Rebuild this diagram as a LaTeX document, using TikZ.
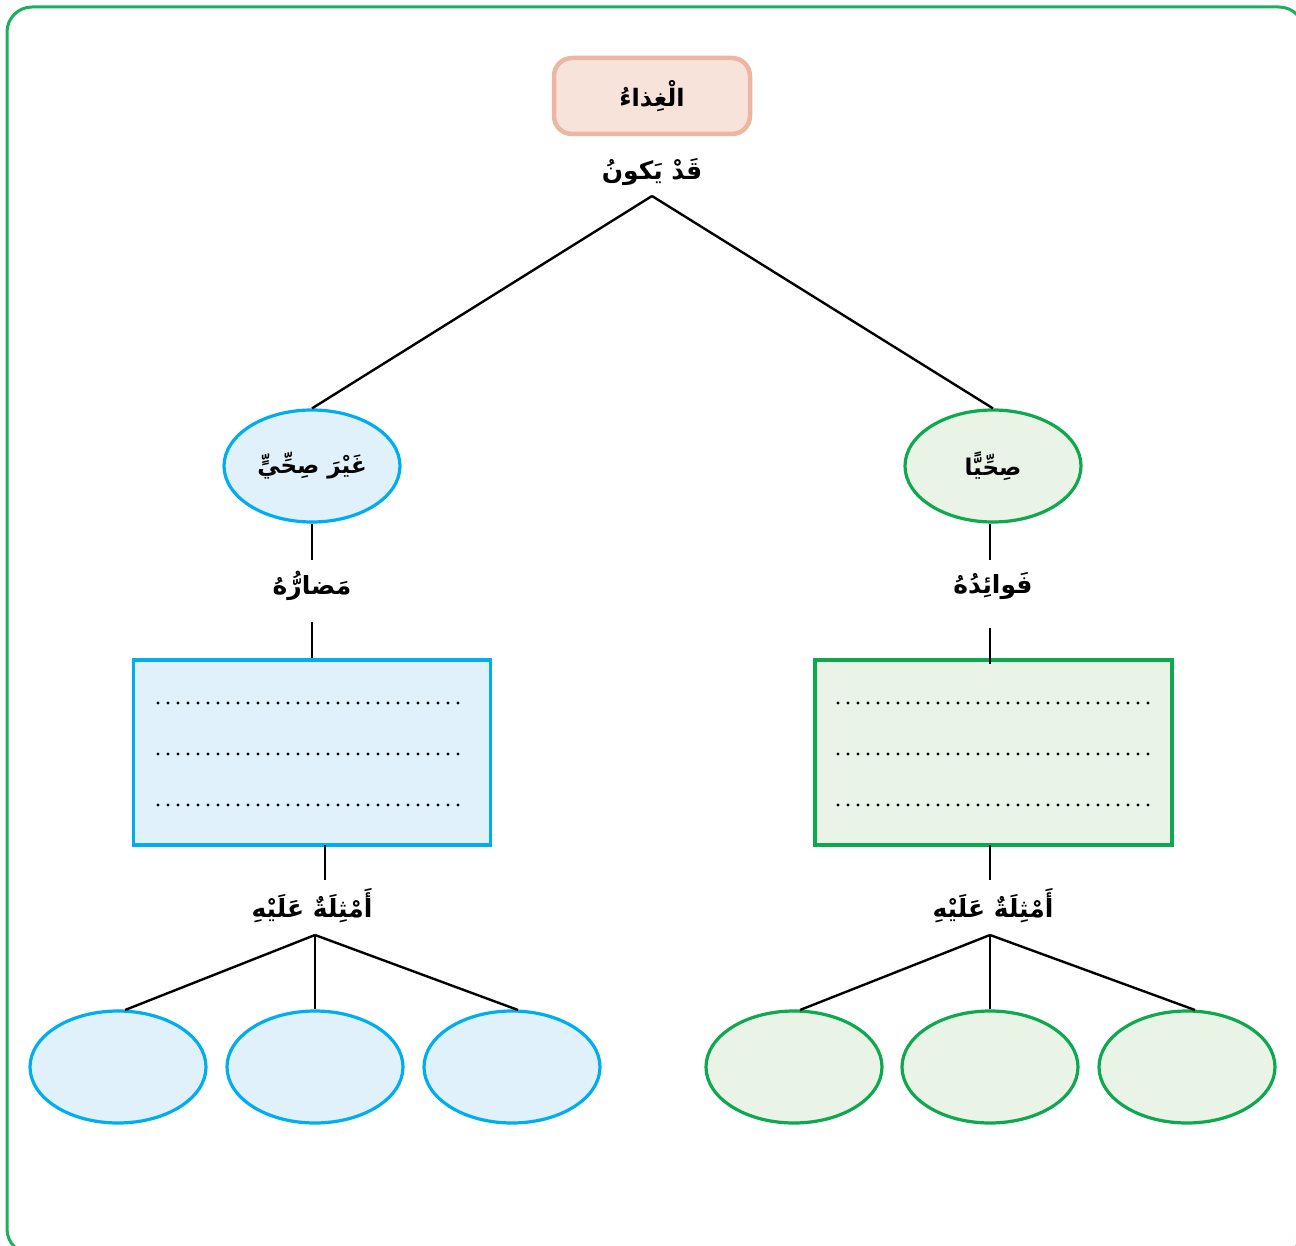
\documentclass[tikz,border=0pt]{standalone}
\usepackage{fontspec}
\newfontfamily\arabicfont[Script=Arabic]{DejaVu Sans}
\TeXXeTstate=1
\usetikzlibrary{shapes.geometric,calc}
\definecolor{bluestroke}{HTML}{00AEEF}
\definecolor{bluefill}{HTML}{E0F1FB}
\definecolor{greenstroke}{HTML}{0DA84F}
\definecolor{greenfill}{HTML}{E9F3E6}
\definecolor{pinkfill}{HTML}{F8E3DA}
\definecolor{pinkstroke}{HTML}{EDB5A2}
\definecolor{framegreen}{HTML}{1DAF5A}
\newcommand{\artext}[1]{{\arabicfont\bfseries\beginR #1\endR}}
\begin{document}
\begin{tikzpicture}[x=1pt,y=-1pt,
  topbox/.style={draw=pinkstroke, fill=pinkfill, line width=4.5pt, rounded corners=18pt,
    minimum width=196pt, minimum height=76pt, inner sep=0pt, font=\fontsize{24}{28}\selectfont},
  blueell/.style={ellipse, draw=bluestroke, fill=bluefill, line width=3.2pt,
    minimum width=176pt, minimum height=112pt, inner sep=0pt, font=\fontsize{23}{27}\selectfont},
  greenell/.style={ellipse, draw=greenstroke, fill=greenfill, line width=3.2pt,
    minimum width=176pt, minimum height=112pt, inner sep=0pt, font=\fontsize{23}{27}\selectfont},
  bluebox/.style={draw=bluestroke, fill=bluefill, line width=3.2pt,
    minimum width=357pt, minimum height=185pt, inner sep=0pt},
  greenbox/.style={draw=greenstroke, fill=greenfill, line width=3.2pt,
    minimum width=357pt, minimum height=185pt, inner sep=0pt},
  lbl/.style={inner sep=2pt, font=\fontsize{25}{29}\selectfont},
  conn/.style={draw=black, line width=2.4pt},
  dotline/.style={draw=black, line width=3.4pt, line cap=round, dash pattern=on 0pt off 10pt}
]
\useasboundingbox (0,0) rectangle (1296,1246);
\begin{scope}
\clip (0,0) rectangle (1296,1246);
\draw[framegreen, line width=3pt, rounded corners=25pt] (7,7) rectangle (1304,1254);
\end{scope}

% top
\node[topbox] (food) at (652,96) {\artext{الْغِذاءُ}};
\node[lbl] (may) at (652,172) {\artext{قَدْ يَكونُ}};
\coordinate (split) at (652,196);

% ellipses level 2
\node[blueell] (unhealthy) at (312,466) {\artext{غَيْرَ صِحِّيٍّ}};
\node[greenell] (healthy) at (993,466) {\artext{صِحِّيًّا}};

\draw[conn] (split) -- (unhealthy.north);
\draw[conn] (split) -- (healthy.north);

% labels
\node[lbl] (harm) at (312,586) {\artext{مَضارُّهُ}};
\node[lbl] (benefit) at (993,586) {\artext{فَوائِدُهُ}};

\node[bluebox] (harmbox) at (312,752.5) {};
\node[greenbox] (benbox) at (993.5,752.5) {};

\draw[conn] (unhealthy.south) -- (312,560);
\draw[conn] (312,622) -- (harmbox.north);
\draw[conn] (healthy.south -| 990,0) -- (990,560);
\draw[conn] (990,628) -- (990,664);

% dotted lines
\foreach \yy in {703,754,805}{
  \draw[dotline] (158,\yy) -- (468,\yy);
  \draw[dotline] (838,\yy) -- (1150,\yy);
}

% examples labels
\node[lbl] (exl) at (312,906) {\artext{أَمْثِلَةٌ عَلَيْهِ}};
\node[lbl] (exr) at (993,906) {\artext{أَمْثِلَةٌ عَلَيْهِ}};
\draw[conn] (325,845) -- (325,880);
\draw[conn] (990,845) -- (990,880);
\coordinate (bl) at (315,935);
\coordinate (br) at (990,935);

% bottom ellipses
\node[blueell] (l1) at (118,1067) {};
\node[blueell] (l2) at (315,1067) {};
\node[blueell] (l3) at (512,1067) {};
\node[greenell] (r1) at (794,1067) {};
\node[greenell] (r2) at (990,1067) {};
\node[greenell] (r3) at (1187,1067) {};

\draw[conn] (bl) -- (125,1010);
\draw[conn] (bl) -- (l2.north);
\draw[conn] (bl) -- (518,1010);
\draw[conn] (br) -- (800,1010);
\draw[conn] (br) -- (r2.north);
\draw[conn] (br) -- (1195,1010);
\end{tikzpicture}
\end{document}
